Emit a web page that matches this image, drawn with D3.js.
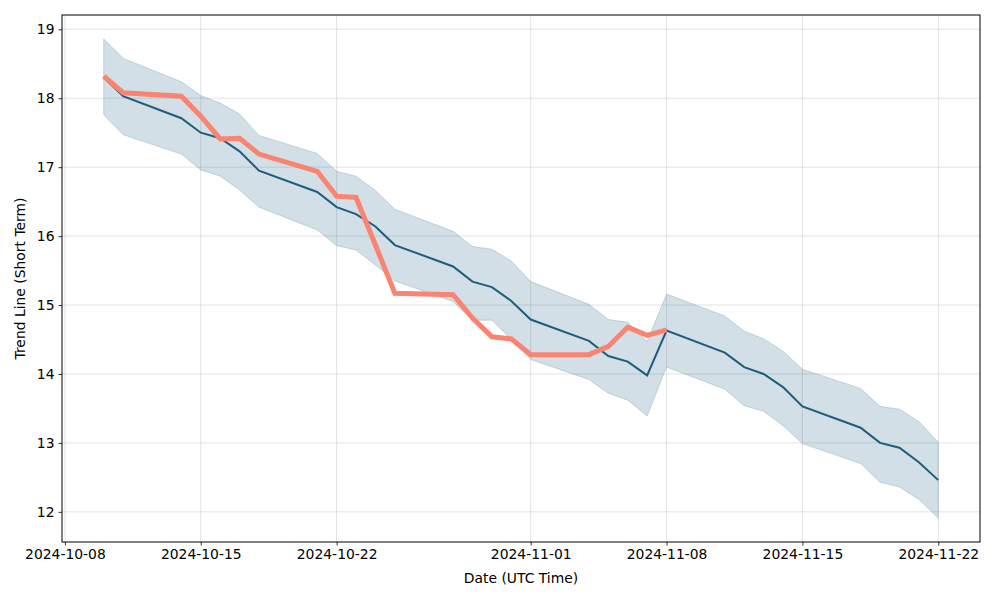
<!DOCTYPE html>
<html lang="en">
<head>
<meta charset="UTF-8">
<title>Trend Line (Short Term)</title>
<style>
  body { margin: 0; background: #fff; }
  svg text { font-family: 'DejaVu Sans', sans-serif; fill: #000; }
</style>
<script src="https://d3js.org/d3.v7.min.js"></script>
</head>
<body>
<svg width="1000" height="600"></svg>
<script>
// trading days
const dates = [
  "2024-10-10", "2024-10-11", "2024-10-14", "2024-10-15", "2024-10-16", "2024-10-17", "2024-10-18",
  "2024-10-21", "2024-10-22", "2024-10-23", "2024-10-24", "2024-10-25",
  "2024-10-28", "2024-10-29", "2024-10-30", "2024-10-31", "2024-11-01",
  "2024-11-04", "2024-11-05", "2024-11-06", "2024-11-07", "2024-11-08",
  "2024-11-11", "2024-11-12", "2024-11-13", "2024-11-14", "2024-11-15",
  "2024-11-18", "2024-11-19", "2024-11-20", "2024-11-21", "2024-11-22"
];
const trend = [
  18.30, 18.03, 17.71, 17.50, 17.42, 17.23, 16.95,
  16.64, 16.42, 16.32, 16.14, 15.87,
  15.56, 15.34, 15.26, 15.06, 14.79,
  14.48, 14.26, 14.18, 13.98, 14.63,
  14.31, 14.10, 14.00, 13.81, 13.53,
  13.22, 13.00, 12.93, 12.72, 12.46
];
const upper = [
  18.86, 18.58, 18.24, 18.04, 17.93, 17.77, 17.46,
  17.20, 16.94, 16.87, 16.66, 16.39,
  16.07, 15.85, 15.81, 15.64, 15.34,
  15.01, 14.79, 14.75, 14.47, 15.16,
  14.84, 14.62, 14.51, 14.33, 14.07,
  13.79, 13.53, 13.49, 13.31, 13.01
];
const lower = [
  17.76, 17.47, 17.19, 16.96, 16.87, 16.67, 16.42,
  16.09, 15.86, 15.80, 15.58, 15.35,
  15.05, 14.78, 14.78, 14.50, 14.21,
  13.92, 13.72, 13.62, 13.39, 14.10,
  13.78, 13.54, 13.46, 13.25, 12.99,
  12.70, 12.43, 12.36, 12.18, 11.91
];
// actual price, available up to 2024-11-08
const price = [
  18.32, 18.08, 18.03, 17.74, 17.41, 17.42, 17.19,
  16.94, 16.58, 16.56, 15.87, 15.17,
  15.15, 14.81, 14.54, 14.51, 14.28,
  14.28, 14.40, 14.68, 14.56, 14.64
];
const xTicks = ["2024-10-08", "2024-10-15", "2024-10-22", "2024-11-01", "2024-11-08", "2024-11-15", "2024-11-22"];
const yTicks = [12, 13, 14, 15, 16, 17, 18, 19];

const parse = d3.utcParse("%Y-%m-%d");
const rows = dates.map((d, i) => ({
  date: parse(d), trend: trend[i], upper: upper[i], lower: lower[i],
  price: i < price.length ? price[i] : null
}));

const margin = { left: 62, top: 15, right: 20, bottom: 58 };
const width = 1000, height = 600;
const svg = d3.select("svg");

// matplotlib-like 5% margins
const xExt = d3.extent(rows, d => d.date);
const xPad = (xExt[1] - xExt[0]) * 0.05;
const yMin = d3.min(lower), yMax = d3.max(upper);
const yPad = (yMax - yMin) * 0.05;

const x = d3.scaleUtc()
  .domain([new Date(+xExt[0] - xPad), new Date(+xExt[1] + xPad)])
  .range([margin.left, width - margin.right]);
const y = d3.scaleLinear()
  .domain([yMin - yPad, yMax + yPad])
  .range([height - margin.bottom, margin.top]);

const xTickDates = xTicks.map(parse);

// grid
svg.append("g").selectAll("line")
  .data(xTickDates).enter().append("line")
  .attr("x1", d => x(d)).attr("x2", d => x(d))
  .attr("y1", margin.top).attr("y2", height - margin.bottom)
  .attr("stroke", "#b0b0b0").attr("stroke-opacity", 0.35).attr("stroke-width", 1);
svg.append("g").selectAll("line")
  .data(yTicks).enter().append("line")
  .attr("x1", margin.left).attr("x2", width - margin.right)
  .attr("y1", d => y(d)).attr("y2", d => y(d))
  .attr("stroke", "#b0b0b0").attr("stroke-opacity", 0.35).attr("stroke-width", 1);

// confidence band
const area = d3.area()
  .x(d => x(d.date))
  .y0(d => y(d.lower))
  .y1(d => y(d.upper));
svg.append("path")
  .datum(rows)
  .attr("d", area)
  .attr("fill", "#1f5f80").attr("fill-opacity", 0.2)
  .attr("stroke", "#1f5f80").attr("stroke-opacity", 0.2).attr("stroke-width", 1);

// trend line
svg.append("path")
  .datum(rows)
  .attr("d", d3.line().x(d => x(d.date)).y(d => y(d.trend)))
  .attr("fill", "none")
  .attr("stroke", "#1d5d7e")
  .attr("stroke-width", 2);

// price line
svg.append("path")
  .datum(rows.filter(d => d.price !== null))
  .attr("d", d3.line().x(d => x(d.date)).y(d => y(d.price)))
  .attr("fill", "none")
  .attr("stroke", "#fa8372")
  .attr("stroke-width", 5)
  .attr("stroke-linejoin", "miter");

// axes
const xAxis = svg.append("g")
  .attr("transform", `translate(0,${height - margin.bottom})`)
  .call(d3.axisBottom(x).tickValues(xTickDates).tickFormat(d3.utcFormat("%Y-%m-%d")).tickSize(3.5).tickPadding(4));
const yAxis = svg.append("g")
  .attr("transform", `translate(${margin.left},0)`)
  .call(d3.axisLeft(y).tickValues(yTicks).tickFormat(d3.format("d")).tickSize(3.5).tickPadding(4));
[xAxis, yAxis].forEach(g => {
  g.select(".domain").remove();
  g.selectAll(".tick line").attr("stroke", "#000").attr("stroke-width", 0.8);
  g.selectAll("text").style("font-size", "13.9px").style("font-family", "'DejaVu Sans', sans-serif");
});

// frame
svg.append("rect")
  .attr("x", margin.left).attr("y", margin.top)
  .attr("width", width - margin.left - margin.right)
  .attr("height", height - margin.top - margin.bottom)
  .attr("fill", "none").attr("stroke", "#000").attr("stroke-width", 1);

svg.append("text")
  .attr("x", (margin.left + width - margin.right) / 2)
  .attr("y", 583)
  .attr("text-anchor", "middle")
  .style("font-size", "13.9px")
  .text("Date (UTC Time)");

svg.append("text")
  .attr("transform", `translate(25,${(margin.top + height - margin.bottom) / 2}) rotate(-90)`)
  .attr("text-anchor", "middle")
  .style("font-size", "13.9px")
  .text("Trend Line (Short Term)");
</script>
</body>
</html>
